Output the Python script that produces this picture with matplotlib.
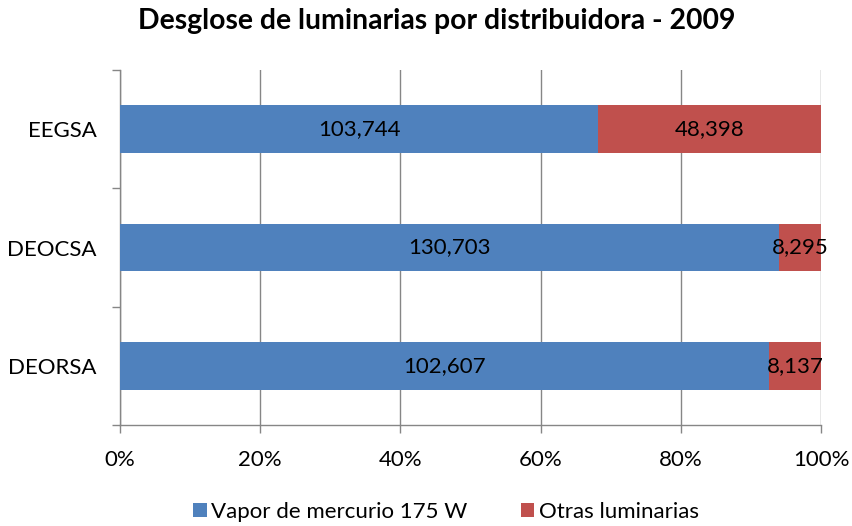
import numpy as np
import matplotlib.pyplot as plt
from matplotlib.patches import Patch

# Data
distribuidoras = ["EEGSA", "DEOCSA", "DEORSA"]
vapor_mercurio = [103744, 130703, 102607]
otras = [48398, 8295, 8137]
series_names = ["Vapor de mercurio 175 W", "Otras luminarias"]
xtick_labels = ["0%", "20%", "40%", "60%", "80%", "100%"]

plt.rcParams['font.family'] = ['Lato', 'DejaVu Sans']

vm = np.array(vapor_mercurio, dtype=float)
ot = np.array(otras, dtype=float)
total = vm + ot
vm_pct = vm / total
ot_pct = ot / total

blue = "#4F81BD"
red = "#C0504D"
grid_col = "#868686"

fig = plt.figure(figsize=(8.53, 5.26), dpi=100)
ax = fig.add_axes([120 / 853, 1 - 425 / 526, 701 / 853, 355 / 526])

y = np.arange(len(distribuidoras))
h = 0.40
ax.barh(y, vm_pct, height=h, color=blue, zorder=3)
ax.barh(y, ot_pct, left=vm_pct, height=h, color=red, zorder=3)

# value labels
for i in range(len(distribuidoras)):
    ax.text(vm_pct[i] / 2, y[i], f"{vapor_mercurio[i]:,}", ha="center", va="center",
            fontsize=16, color="black", zorder=4)
    ax.text(vm_pct[i] + ot_pct[i] / 2, y[i], f"{otras[i]:,}", ha="center", va="center",
            fontsize=16, color="black", zorder=4)

ax.set_xlim(0, 1)
ax.set_ylim(2.5, -0.5)
ax.set_xticks(np.linspace(0, 1, 6))
ax.set_xticklabels(xtick_labels, fontsize=16)
ax.set_yticks(y)
ax.set_yticklabels(distribuidoras, fontsize=16)
ax.set_yticks([-0.5, 0.5, 1.5, 2.5], minor=True)
ax.tick_params(axis="y", which="major", length=0, pad=17)
ax.tick_params(axis="y", which="minor", length=5.5, color=grid_col, width=1)
ax.tick_params(axis="x", length=6, color=grid_col, width=1, pad=12)

ax.xaxis.grid(True, color=grid_col, linewidth=1, zorder=0)
ax.set_axisbelow(True)
for s in ["top", "right"]:
    ax.spines[s].set_visible(False)
for s in ["left", "bottom"]:
    ax.spines[s].set_color(grid_col)
    ax.spines[s].set_linewidth(1)

fig.text(437 / 853, 1 - 21 / 526, "Desglose de luminarias por distribuidora - 2009",
         ha="center", va="center", fontsize=20.4, fontweight="bold")

handles = [Patch(facecolor=blue), Patch(facecolor=red)]
fig.legend(handles, series_names, loc="center", bbox_to_anchor=(446 / 853, 1 - 512 / 526),
           ncol=2, frameon=False, fontsize=16, handlelength=0.6, handleheight=0.6,
           handletextpad=0.2, columnspacing=2.4, borderpad=0)

fig.savefig("out.png", dpi=100)
